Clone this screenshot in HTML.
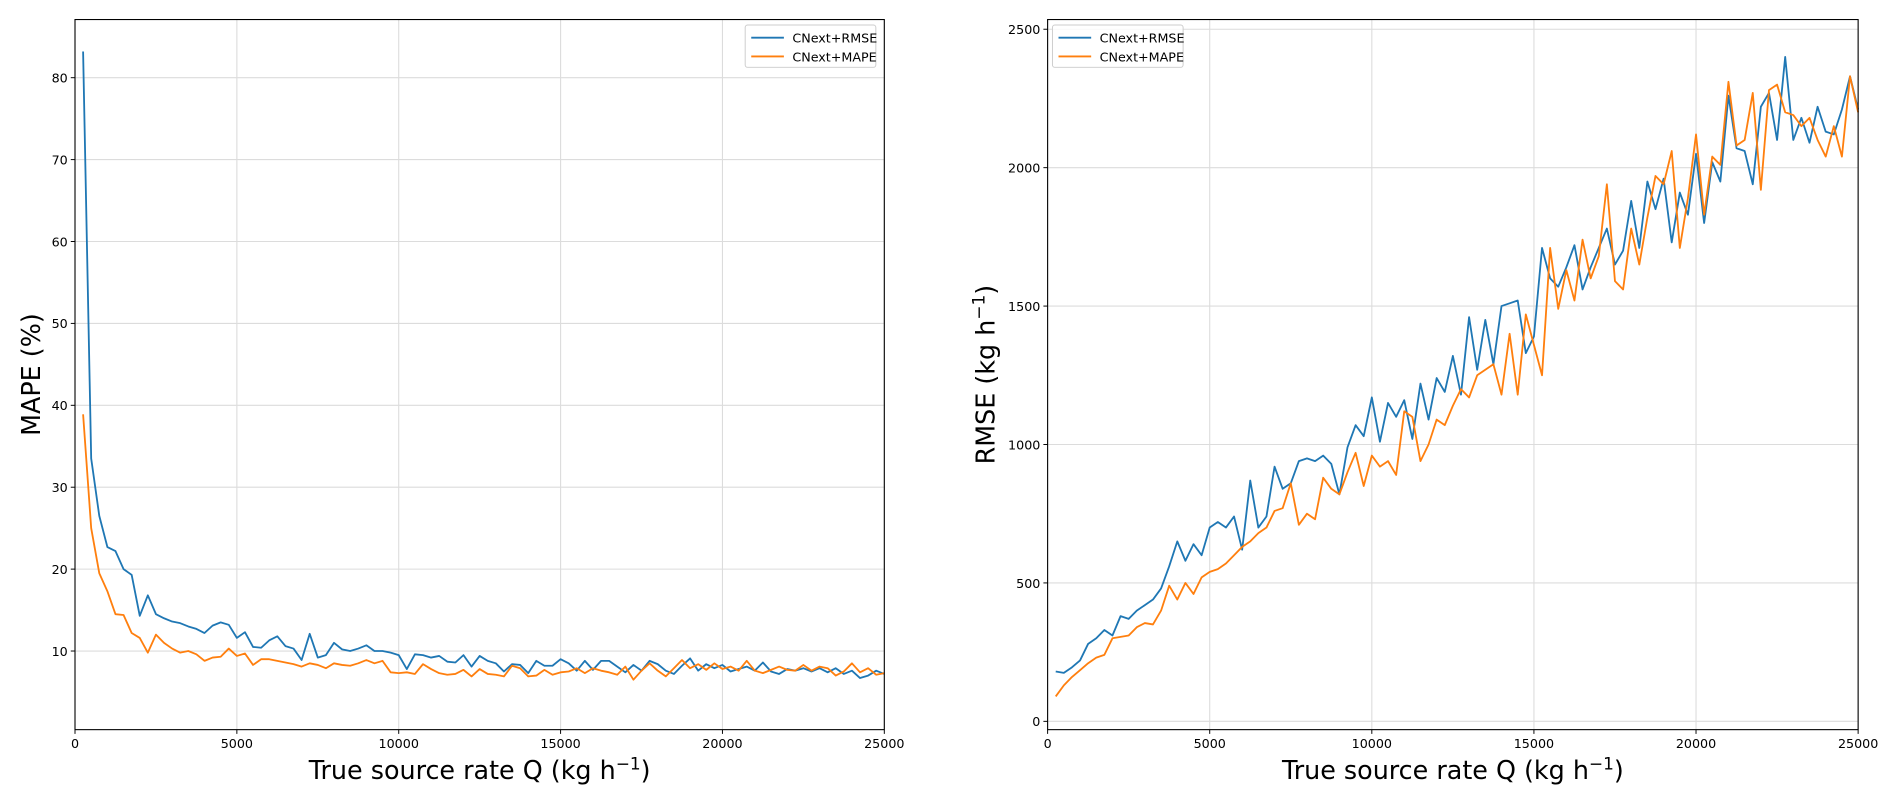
<!DOCTYPE html>
<html><head><meta charset="utf-8"><style>
html,body{margin:0;padding:0;background:#fff;}
svg{display:block;font-family:"DejaVu Sans","Liberation Sans",sans-serif;}
</style></head><body>
<svg id="fig" width="1892" height="800" viewBox="0 0 1564 661" xmlns="http://www.w3.org/2000/svg"></svg>
<script>
const mapeRmse = [83.2,33.5,26.5,22.7,22.2,20.0,19.3,14.3,16.8,14.5,
14.0,13.6,13.4,13.0,12.7,12.2,13.1,13.5,13.2,11.6,
12.3,10.5,10.4,11.3,11.8,10.6,10.3,8.9,12.1,9.2,
9.5,11.0,10.2,10.0,10.3,10.7,10.0,10.0,9.8,9.5,
7.8,9.6,9.5,9.2,9.4,8.7,8.6,9.5,8.1,9.4,
8.8,8.5,7.5,8.4,8.3,7.3,8.8,8.2,8.2,9.0,
8.5,7.6,8.8,7.7,8.8,8.8,8.1,7.4,8.3,7.6,
8.8,8.4,7.6,7.2,8.2,9.1,7.6,8.4,7.9,8.3,
7.5,7.8,8.1,7.6,8.6,7.5,7.2,7.8,7.6,7.9,
7.5,7.9,7.4,7.9,7.2,7.6,6.7,7.0,7.6,7.2];
const mapeMape = [38.9,25,19.5,17.3,14.5,14.4,12.2,11.6,9.8,12,
11,10.3,9.8,10,9.6,8.8,9.2,9.3,10.3,9.4,
9.7,8.3,9,9,8.8,8.6,8.4,8.1,8.5,8.3,
7.9,8.5,8.3,8.2,8.5,8.9,8.5,8.8,7.4,7.3,
7.4,7.2,8.4,7.8,7.3,7.1,7.2,7.7,6.9,7.8,
7.2,7.1,6.9,8.2,7.9,6.9,7,7.7,7.1,7.4,
7.5,7.9,7.3,7.9,7.6,7.4,7.1,8.1,6.5,7.6,
8.5,7.6,6.9,7.9,8.9,7.9,8.4,7.7,8.5,7.8,
8.1,7.6,8.8,7.6,7.3,7.7,8.1,7.7,7.6,8.3,
7.6,8.1,7.9,7,7.5,8.5,7.4,7.9,7.1,7.3];
const rmseRmse = [180,175,195,220, 280,300,330,310, 380,370,400,420, 440,480,560,650,
580,640,600,700, 720,700,740,620, 870,700,740,920, 840,860,940,950,
940,960,930,820, 990,1070,1030,1170, 1010,1150,1100,1160, 1020,1220,1090,1240,
1190,1320,1180,1460, 1270,1450,1290,1500, 1510,1520,1330,1390, 1710,1600,1570,1640,
1720,1560,1640,1710, 1780,1650,1700,1880, 1710,1950,1850,1960, 1730,1910,1830,2050,
1800,2020,1950,2260, 2070,2060,1940,2220, 2270,2100,2400,2100, 2180,2090,2220,2130,
2120,2210,2330,2210];
const rmseMape = [90,130,160,185, 210,230,240,300, 305,310,340,355, 350,400,490,440,
500,460,520,540, 550,570,600,630, 650,680,700,760, 770,860,710,750,
730,880,840,820, 900,970,850,960, 920,940,890,1120, 1100,940,1000,1090,
1070,1140,1200,1170, 1250,1270,1290,1180, 1400,1180,1470,1360, 1250,1710,1490,1630,
1520,1740,1600,1680, 1940,1590,1560,1780, 1650,1820,1970,1940, 2060,1710,1890,2120,
1830,2040,2010,2310, 2080,2100,2270,1920, 2280,2300,2200,2190, 2150,2180,2100,2040,
2150,2040,2330,2200];
const xTicks = [0,5000,10000,15000,20000,25000];
const leftYTicks = [10,20,30,40,50,60,70,80];
const rightYTicks = [0,500,1000,1500,2000,2500];
const legendLabels = ["CNext+RMSE","CNext+MAPE"];
const qStep = 250;

const NS="http://www.w3.org/2000/svg";
const svg=document.getElementById('fig');
function mk(tag,attrs,parent){const e=document.createElementNS(NS,tag);for(const k in attrs)e.setAttribute(k,attrs[k]);(parent||svg).appendChild(e);return e;}

function panel(o){
  const g=mk('g',{});
  
  
  const X=v=>o.x0+(v-0)/(25000)*(o.x1-o.x0);
  const Y=v=>o.yb+(v-o.ymin)/(o.ymax-o.ymin)*(o.yt-o.yb);
  xTicks.forEach(t=>{
    const l=mk('line',{x1:X(t),x2:X(t),y1:o.yt,y2:o.yb,stroke:'#dcdcdc','stroke-width':0.9},g);
    
    
    mk('line',{x1:X(t),x2:X(t),y1:o.yb,y2:o.yb+3.5,stroke:'#000','stroke-width':0.8},g);
    const tx=mk('text',{x:X(t),y:o.yb+15,'font-size':10.5,'text-anchor':'middle',fill:'#000'},g);
    tx.textContent=t;
    
    
  });
  o.yTicks.forEach(t=>{
    const l=mk('line',{x1:o.x0,x2:o.x1,y1:Y(t),y2:Y(t),stroke:'#dcdcdc','stroke-width':0.9},g);
    
    
    mk('line',{x1:o.x0-3.5,x2:o.x0,y1:Y(t),y2:Y(t),stroke:'#000','stroke-width':0.8},g);
    const tx=mk('text',{x:o.x0-6,y:Y(t)+4,'font-size':10.5,'text-anchor':'end',fill:'#000'},g);
    tx.textContent=t;
    
    
  });
  const colors=['#1f77b4','#ff7f0e'];
  [o.s1,o.s2].forEach((s,si)=>{
    const d=s.map((v,i)=>(i?'L':'M')+X((i+1)*qStep).toFixed(2)+','+Y(v).toFixed(2)).join('');
    const p=mk('path',{d:d,fill:'none',stroke:colors[si],'stroke-width':1.5,'stroke-linejoin':'round'},g);
    
    
  });
  const fr=mk('rect',{x:o.x0,y:o.yt,width:o.x1-o.x0,height:o.yb-o.yt,fill:'none',stroke:'#000','stroke-width':0.9},g);
  
  
  const xl=mk('text',{x:(o.x0+o.x1)/2,y:644,'font-size':21,'text-anchor':'middle',fill:'#000'},g);
  xl.innerHTML='True source rate Q (kg h<tspan dy="-8" font-size="14">−1</tspan><tspan dy="8">)</tspan>';
  
  
  const yl=mk('text',{x:0,y:0,'font-size':21,'text-anchor':'middle',fill:'#000',transform:`translate(${o.ylx},${(o.yt+o.yb)/2}) rotate(-90)`},g);
  yl.innerHTML=o.ylabel;
  
  
  const lg=mk('g',{},g);
  
  
  mk('rect',{x:o.lx,y:20.5,width:108,height:35,rx:2,fill:'#fff','fill-opacity':0.8,stroke:'#ccc','stroke-width':0.8},lg);
  legendLabels.forEach((lab,i)=>{
    const yy=31+i*15.5;
    mk('line',{x1:o.lx+5,x2:o.lx+32,y1:yy,y2:yy,stroke:colors[i],'stroke-width':1.5},lg);
    const t=mk('text',{x:o.lx+39,y:yy+4,'font-size':10.5,fill:'#000'},lg);
    t.textContent=lab;
    
    
  });
}
panel({name:'mape-chart',x0:62,x1:731,yt:16,yb:603,ymin:0.4,ymax:87.1,yTicks:leftYTicks,s1:mapeRmse,s2:mapeMape,ylx:33,ylabel:'MAPE (%)',lx:616});
panel({name:'rmse-chart',x0:866,x1:1536,yt:16,yb:603,ymin:-30,ymax:2535,yTicks:rightYTicks,s1:rmseRmse,s2:rmseMape,ylx:822,ylabel:'RMSE (kg h<tspan dy="-8" font-size="14">−1</tspan><tspan dy="8">)</tspan>',lx:870});
</script>
</body></html>
